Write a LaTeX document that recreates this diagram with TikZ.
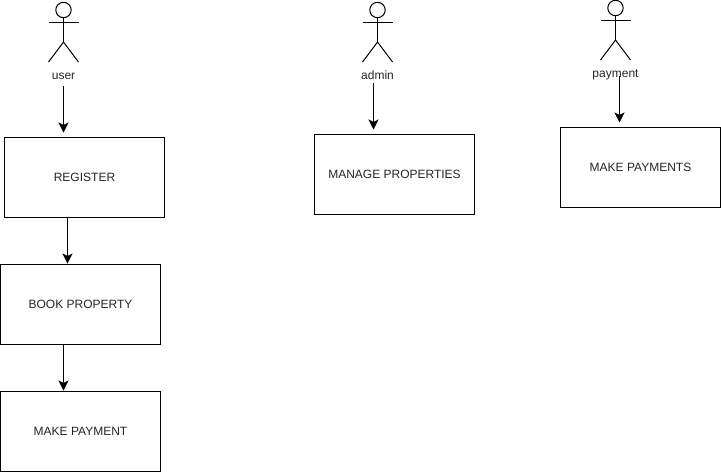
\documentclass[tikz,border=0pt]{standalone}
\usepackage{fontspec}
\setmainfont{Liberation Sans}
\usetikzlibrary{arrows.meta}
\tikzset{
  boxnode/.style={draw=black,line width=1pt,outer sep=0pt,minimum width=160pt,minimum height=80pt,inner sep=0pt,font=\fontsize{12}{14}\selectfont,text=black!85,anchor=north west},
  actorlabel/.style={inner sep=0pt,outer sep=0pt,anchor=base,font=\fontsize{12}{14}\selectfont,text=black!85},
  limb/.style={draw=black,line width=1pt},
  flow/.style={draw=black,line width=1pt,-{Stealth[length=10pt,width=10pt,inset=2.5pt]}},
  pics/actor/.style={code={
    \draw[limb] (0,0) circle (7.7);
    \draw[limb] (-15,12.5) -- (15,12.5);
    \draw[limb] (0,7.7) -- (0,32);
    \draw[limb] (-15,52) -- (0,32) -- (15,52);
  }}
}
\begin{document}
\begin{tikzpicture}[x=1pt,y=-1pt]
\useasboundingbox (0,0) rectangle (721,472);
\fill[white] (0,0) rectangle (721,472);
\pic at (63.5,10) {actor};
\pic at (377.5,10) {actor};
\pic at (615.5,8) {actor};
\node[actorlabel] (userlabel) at (63.5,79.5) {user};
\node[actorlabel] (adminlabel) at (377.5,79.5) {admin};
\node[actorlabel] (paymentlabel) at (615.5,77.5) {payment};
\node[boxnode] (register) at (4.5,137.5) {REGISTER};
\node[boxnode] (book) at (0.5,264.5) {BOOK PROPERTY};
\node[boxnode] (makepay) at (0.5,391.5) {MAKE PAYMENT};
\node[boxnode] (manage) at (314.5,134.5) {MANAGE PROPERTIES};
\node[boxnode] (payments) at (560.5,127.5) {MAKE PAYMENTS};
\coordinate (ua) at (63.5,86);
\coordinate (aa) at (373.5,83);
\coordinate (pa) at (619.5,76);
\coordinate (ra) at (67.5,217.5);
\coordinate (ba) at (63.5,344.5);
\draw[flow,shorten >=5pt] (ua) -- (ua |- register.north);
\draw[flow,shorten >=5pt] (aa) -- (aa |- manage.north);
\draw[flow,shorten >=5pt] (pa) -- (pa |- payments.north);
\draw[flow,shorten >=1pt] (ra) -- (ra |- book.north);
\draw[flow,shorten >=1pt] (ba) -- (ba |- makepay.north);
\end{tikzpicture}
\end{document}
